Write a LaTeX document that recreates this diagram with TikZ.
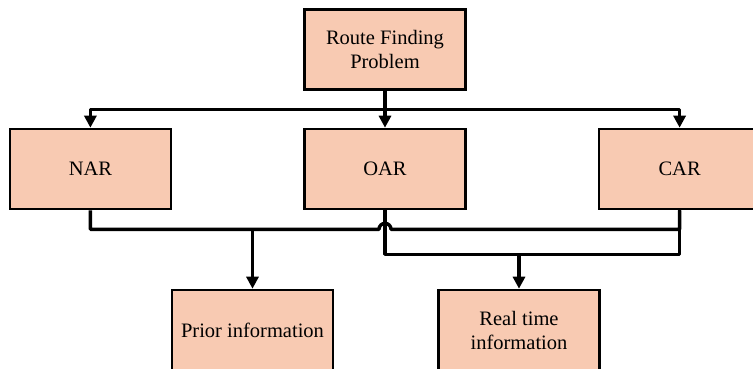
\documentclass[tikz,border=0pt]{standalone}
\usepackage{fontspec}
\setmainfont{Liberation Serif}
\usetikzlibrary{arrows.meta,positioning,calc}
\definecolor{peche}{HTML}{F8CAB2}
\tikzset{
  bloc/.style={rectangle, draw=black, line width=2.6pt, fill=peche, align=center,
               font=\fontsize{20.5}{24}\selectfont, minimum width=161pt, minimum height=80pt, inner sep=0pt},
  arr/.style={-{Triangle[length=12pt,width=12pt]}, line width=3.4pt, line join=round},
  lien/.style={line width=3.4pt, line join=round},
}

\begin{document}
\begin{tikzpicture}[x=1pt, y=1pt, node distance=131pt]
    \useasboundingbox (0,0) rectangle (753,-368);
    \node[bloc] (rfp) at (385,-49.5) {Route Finding\\Problem};
    \node[bloc] (oar) at (385,-169) {OAR};
    \node[bloc, left=of oar] (nar) {NAR};
    \node[bloc, right=of oar] (car) {CAR};
    \node[bloc] (prior) at (252.5,-330) {Prior information};
    \node[bloc] (real) at (519,-330) {Real time\\information};
    % split to the three approaches
    \coordinate (split) at ($(rfp.south)!0.5!(oar.north)$);
    \draw[arr] (rfp) -- (oar);
    \draw[arr] (split) -| (nar);
    \draw[arr] (split) -| (car);
    % NAR + CAR -> prior, OAR + CAR -> real time
    \coordinate (j1) at ($(nar.south)+(0,-19)$);
    \coordinate (j2) at ($(oar.south)+(0,-44)$);
    \draw[lien] (nar.south) -- (j1) -- ($(j1 -| oar)+(-6,0)$) arc[start angle=180, end angle=0, radius=6] -| (car.south);
    \draw[lien] (oar.south) -- (j2) -| (car.south);
    \draw[arr] (j1 -| prior) -- (prior);
    \draw[arr] (j2 -| real) -- (real);
  \end{tikzpicture}
\end{document}
